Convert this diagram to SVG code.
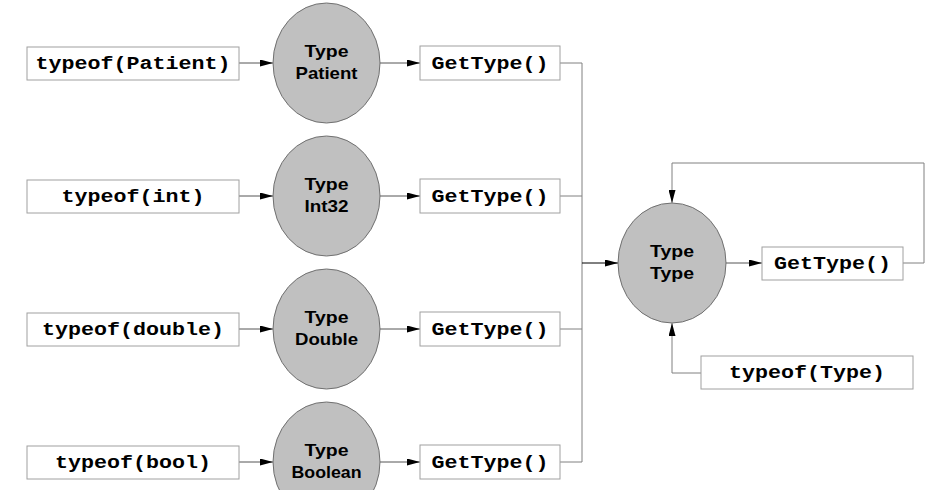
<svg xmlns="http://www.w3.org/2000/svg" width="929" height="490" viewBox="0 0 929 490">
<style>
.box{fill:#fff;stroke:#a0a0a0;stroke-width:1}
.ell{fill:#c0c0c0;stroke:#707070;stroke-width:1}
.mono{font-family:"Liberation Mono","Courier New",monospace;font-weight:bold;font-size:18px;fill:#000;text-anchor:middle}
.sans{font-family:"Liberation Sans",Arial,sans-serif;font-weight:bold;font-size:16.5px;fill:#000;text-anchor:middle}
.ln{fill:none;stroke:#808080;stroke-width:1}
.ar{fill:none;stroke:#555;stroke-width:1;marker-end:url(#ah)}
</style>
<defs>
<marker id="ah" markerUnits="userSpaceOnUse" markerWidth="13" markerHeight="7" refX="13" refY="3.5" orient="auto">
<path d="M0,0 L13,3.5 L0,7 z" fill="#000"/>
</marker>
</defs>
<rect width="929" height="490" fill="#fff"/>
<g id="connectors">
<line class="ar" x1="239" y1="63" x2="273" y2="63"/>
<line class="ar" x1="380" y1="63" x2="420" y2="63"/>
<line class="ar" x1="239" y1="196" x2="273" y2="196"/>
<line class="ar" x1="380" y1="196" x2="420" y2="196"/>
<line class="ar" x1="239" y1="329" x2="273" y2="329"/>
<line class="ar" x1="380" y1="329" x2="420" y2="329"/>
<line class="ar" x1="239" y1="462" x2="273" y2="462"/>
<line class="ar" x1="380" y1="462" x2="420" y2="462"/>
<polyline class="ln" points="560,63 582,63 582,462 560,462"/>
<line class="ln" x1="560" y1="196" x2="582" y2="196"/>
<line class="ln" x1="560" y1="329" x2="582" y2="329"/>
<line class="ar" style="stroke:#000" x1="582" y1="263" x2="618" y2="263"/>
<line class="ar" x1="726" y1="263" x2="762" y2="263"/>
<polyline class="ar" style="stroke:#808080" points="903,263 924,263 924,163 672,163 672,203"/>
<polyline class="ar" style="stroke:#808080" points="701,373 672,373 672,323"/>
</g>
<g id="typeof-patient"><rect class="box" x="27" y="47" width="212" height="33"/><text class="mono" x="133" y="69" textLength="195" lengthAdjust="spacingAndGlyphs">typeof(Patient)</text></g>
<g id="typeof-int"><rect class="box" x="27" y="180" width="212" height="33"/><text class="mono" x="133" y="202" textLength="143" lengthAdjust="spacingAndGlyphs">typeof(int)</text></g>
<g id="typeof-double"><rect class="box" x="27" y="313" width="212" height="33"/><text class="mono" x="133" y="335" textLength="182" lengthAdjust="spacingAndGlyphs">typeof(double)</text></g>
<g id="typeof-bool"><rect class="box" x="27" y="446" width="212" height="33"/><text class="mono" x="133" y="468" textLength="156" lengthAdjust="spacingAndGlyphs">typeof(bool)</text></g>
<g id="type-patient"><ellipse class="ell" cx="326.5" cy="63" rx="53.5" ry="60"/><text class="sans" x="326.5" y="57" textLength="44" lengthAdjust="spacingAndGlyphs">Type</text><text class="sans" x="326.5" y="79" textLength="62" lengthAdjust="spacingAndGlyphs">Patient</text></g>
<g id="type-int32"><ellipse class="ell" cx="326.5" cy="196" rx="53.5" ry="60"/><text class="sans" x="326.5" y="190" textLength="44" lengthAdjust="spacingAndGlyphs">Type</text><text class="sans" x="326.5" y="212" textLength="44" lengthAdjust="spacingAndGlyphs">Int32</text></g>
<g id="type-double"><ellipse class="ell" cx="326.5" cy="329" rx="53.5" ry="60"/><text class="sans" x="326.5" y="323" textLength="44" lengthAdjust="spacingAndGlyphs">Type</text><text class="sans" x="326.5" y="345" textLength="63" lengthAdjust="spacingAndGlyphs">Double</text></g>
<g id="type-boolean"><ellipse class="ell" cx="326.5" cy="462" rx="53.5" ry="60"/><text class="sans" x="326.5" y="456" textLength="44" lengthAdjust="spacingAndGlyphs">Type</text><text class="sans" x="326.5" y="478" textLength="70" lengthAdjust="spacingAndGlyphs">Boolean</text></g>
<g id="gettype-1"><rect class="box" x="420" y="46" width="140" height="34"/><text class="mono" x="490" y="69" textLength="117" lengthAdjust="spacingAndGlyphs">GetType()</text></g>
<g id="gettype-2"><rect class="box" x="420" y="179" width="140" height="34"/><text class="mono" x="490" y="202" textLength="117" lengthAdjust="spacingAndGlyphs">GetType()</text></g>
<g id="gettype-3"><rect class="box" x="420" y="312" width="140" height="34"/><text class="mono" x="490" y="335" textLength="117" lengthAdjust="spacingAndGlyphs">GetType()</text></g>
<g id="gettype-4"><rect class="box" x="420" y="445" width="140" height="34"/><text class="mono" x="490" y="468" textLength="117" lengthAdjust="spacingAndGlyphs">GetType()</text></g>
<g id="type-type"><ellipse class="ell" cx="672" cy="263" rx="54" ry="60"/><text class="sans" x="672" y="256.5" textLength="44" lengthAdjust="spacingAndGlyphs">Type</text><text class="sans" x="672" y="278.5" textLength="44" lengthAdjust="spacingAndGlyphs">Type</text></g>
<g id="gettype-type"><rect class="box" x="762" y="247" width="141" height="33"/><text class="mono" x="832.5" y="269" textLength="117" lengthAdjust="spacingAndGlyphs">GetType()</text></g>
<g id="typeof-type"><rect class="box" x="701" y="356" width="212" height="33"/><text class="mono" x="807" y="378" textLength="156" lengthAdjust="spacingAndGlyphs">typeof(Type)</text></g>
</svg>
